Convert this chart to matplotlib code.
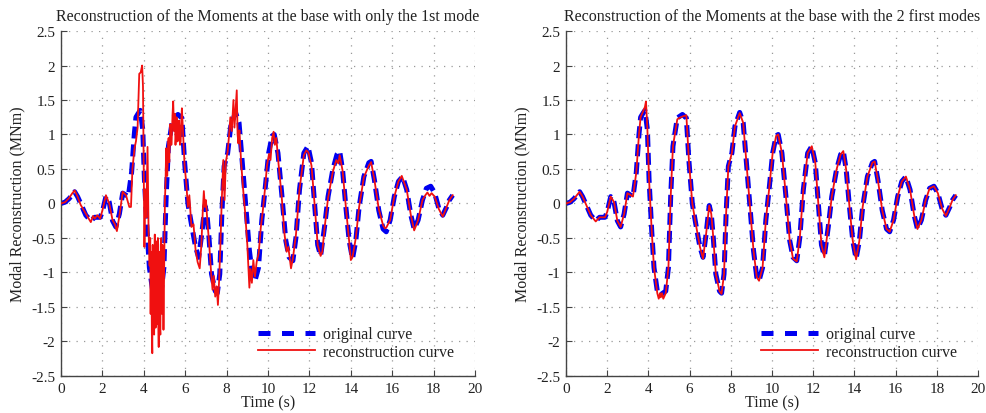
import matplotlib
matplotlib.use("Agg")
import matplotlib.pyplot as plt
from matplotlib.lines import Line2D

plt.rcParams['font.family'] = ['Liberation Serif', 'DejaVu Serif']
plt.rcParams['axes.unicode_minus'] = False

# original curve (same in both panels)
t_orig = [0, 0.2, 0.39, 0.55, 0.66, 0.8, 0.95, 1.2, 1.44, 1.63, 1.89, 2.0, 2.17, 2.33, 2.49, 2.65,
          2.82, 2.98, 3.14, 3.25, 3.41, 3.54, 3.62, 3.72, 3.83, 3.95, 4.03, 4.16, 4.27, 4.43, 4.6,
          4.84, 4.97, 5.08, 5.19, 5.4, 5.65, 5.84, 5.97, 6.13, 6.3, 6.5, 6.65, 6.8, 6.95, 7.05,
          7.15, 7.27, 7.45, 7.55, 7.67, 7.77, 7.88, 8.05, 8.2, 8.43, 8.6, 8.76, 8.93, 9.1, 9.26,
          9.37, 9.54, 9.7, 9.87, 10.03, 10.2, 10.3, 10.48, 10.66, 10.86, 11.02, 11.2, 11.35, 11.52,
          11.73, 11.93, 12.1, 12.26, 12.4, 12.54, 12.73, 12.9, 13.13, 13.33, 13.46, 13.6, 13.76,
          13.92, 14.08, 14.24, 14.4, 14.63, 14.87, 14.98, 15.14, 15.35, 15.56, 15.71, 15.9, 16.1,
          16.3, 16.5, 16.7, 16.9, 17.06, 17.25, 17.46, 17.65, 17.86, 18.05, 18.25, 18.44, 18.63,
          18.76, 18.92]
m_orig = [0, 0.02, 0.07, 0.13, 0.17, 0.1, 0, -0.17, -0.25, -0.2, -0.2, -0.12, 0.1, 0.02, -0.25,
          -0.34, -0.15, 0.15, 0.12, 0.1, 0.45, 1.0, 1.25, 1.3, 1.35, 1.07, 0.35, -0.4, -0.93, -1.27,
          -1.32, -1.27, -0.93, 0.1, 0.83, 1.24, 1.29, 1.24, 0.6, 0, -0.3, -0.63, -0.78, -0.44, -0.03,
          -0.15, -0.5, -1.02, -1.27, -1.3, -1.02, -0.15, 0.54, 0.73, 1.12, 1.32, 1.17, 0.58, -0.05,
          -0.68, -1.07, -1.12, -0.93, -0.24, 0.24, 0.73, 0.98, 1.0, 0.73, 0.15, -0.54, -0.78, -0.83,
          -0.49, 0.2, 0.73, 0.83, 0.59, -0.05, -0.6, -0.76, -0.34, 0.1, 0.49, 0.71, 0.76, 0.49, -0.05,
          -0.54, -0.8, -0.54, -0.05, 0.39, 0.59, 0.61, 0.34, -0.1, -0.37, -0.41, -0.24, 0.1, 0.32,
          0.39, 0.2, -0.17, -0.37, -0.24, 0.05, 0.22, 0.25, 0.15, -0.07, -0.17, -0.05, 0.05, 0.12]

# reconstruction with only the 1st mode
t_rec1 = [0, 0.2, 0.39, 0.55, 0.66, 0.8, 0.95, 1.2, 1.3, 1.44, 1.55, 1.63, 1.75, 1.89, 2.0, 2.17,
          2.33, 2.49, 2.6, 2.7, 2.82, 2.98, 3.14, 3.3, 3.38, 3.45, 3.55, 3.62, 3.7, 3.78, 3.85,
          3.92, 3.96, 4.0, 4.03, 4.07, 4.12, 4.18, 4.23, 4.28, 4.31, 4.33, 4.35, 4.37, 4.39, 4.41,
          4.43, 4.45, 4.47, 4.5, 4.53, 4.55, 4.57, 4.6, 4.62, 4.64, 4.66, 4.68, 4.7, 4.72, 4.74,
          4.76, 4.78, 4.8, 4.82, 4.84, 4.86, 4.88, 4.9, 4.92, 4.95, 4.98, 5.02, 5.05, 5.08, 5.1,
          5.13, 5.15, 5.18, 5.2, 5.23, 5.25, 5.28, 5.3, 5.33, 5.35, 5.39, 5.42, 5.46, 5.5, 5.53,
          5.55, 5.58, 5.6, 5.63, 5.66, 5.7, 5.72, 5.75, 5.78, 5.81, 5.84, 5.9, 5.97, 6.05, 6.13,
          6.2, 6.3, 6.4, 6.5, 6.6, 6.7, 6.78, 6.85, 6.9, 6.95, 7.0, 7.08, 7.15, 7.25, 7.32, 7.38,
          7.45, 7.52, 7.58, 7.64, 7.7, 7.76, 7.84, 7.9, 7.96, 8.05, 8.12, 8.18, 8.25, 8.33, 8.38,
          8.45, 8.49, 8.53, 8.57, 8.62, 8.7, 8.8, 8.9, 9.0, 9.05, 9.1, 9.15, 9.22, 9.29, 9.37, 9.45,
          9.55, 9.65, 9.75, 9.85, 9.95, 10.05, 10.12, 10.2, 10.27, 10.33, 10.4, 10.5, 10.66, 10.8,
          10.9, 10.98, 11.05, 11.11, 11.2, 11.35, 11.52, 11.73, 11.85, 11.95, 12.1, 12.26, 12.4,
          12.54, 12.62, 12.73, 12.9, 13.13, 13.3, 13.4, 13.46, 13.6, 13.76, 13.92, 14.0, 14.08,
          14.24, 14.4, 14.63, 14.87, 14.98, 15.14, 15.35, 15.56, 15.65, 15.71, 15.9, 16.1, 16.3,
          16.46, 16.7, 16.9, 17.06, 17.25, 17.46, 17.6, 17.7, 17.8, 17.9, 18.05, 18.25, 18.44,
          18.63, 18.76, 18.92]
m_rec1 = [0, 0.02, 0.08, 0.15, 0.19, 0.1, -0.02, -0.15, -0.2, -0.27, -0.18, -0.22, -0.17, -0.22,
          -0.1, 0.12, 0.0, -0.24, -0.3, -0.4, -0.18, 0.17, 0.12, -0.05, -0.05, 0.5, 0.8, 0.9, 1.1,
          1.88, 1.9, 2.0, 1.7, 0.3, -0.63, 0.2, -0.2, 0.82, -0.4, -0.9, -0.5, -1.6, -0.7, -1.0,
          -1.9, -2.17, -0.6, -1.2, -1.7, -1.9, -0.45, -1.5, -1.8, -1.0, -0.55, -1.75, -1.2, -0.5,
          -1.6, -2.08, -0.7, -1.1, -1.8, -1.9, -0.6, -0.5, -1.3, -1.6, -0.6, -0.8, -1.83, -1.0,
          0.05, 0.3, 0.8, 0.65, 0.4, 0.55, 0.9, 0.95, 0.6, 0.8, 1.15, 1.1, 0.85, 0.95, 1.3, 1.48,
          1.05, 1.3, 0.85, 0.95, 1.25, 1.2, 0.9, 1.0, 1.2, 1.1, 0.85, 0.9, 1.2, 1.38, 1.0, 0.55,
          0.3, -0.05, 0.12, -0.34, -0.3, -0.67, -0.85, -0.94, -0.6, -0.1, 0.18, -0.05, 0.05, -0.3,
          -0.55, -1.0, -1.25, -1.05, -1.35, -1.2, -1.47, -1.1, -0.6, 0.0, 0.63, 0.05, 0.6, 0.75,
          1.0, 1.25, 1.05, 1.5, 1.1, 1.45, 1.64, 1.0, 0.87, 1.06, 0.6, 0.2, -0.15, -0.6, -0.9,
          -1.22, -0.95, -1.15, -0.82, -1.06, -0.85, -0.72, -0.35, -0.1, 0.2, 0.55, 0.72, 0.63, 0.95,
          1.04, 0.85, 0.95, 0.6, 0.1, -0.45, -0.7, -0.63, -0.8, -0.94, -0.8, -0.45, 0.2, 0.7, 0.77,
          0.74, 0.55, -0.05, -0.6, -0.76, -0.7, -0.36, 0.08, 0.46, 0.63, 0.58, 0.7, 0.48, -0.05,
          -0.55, -0.82, -0.78, -0.5, -0.05, 0.38, 0.55, 0.6, 0.34, -0.08, -0.32, -0.36, -0.35,
          -0.24, 0.1, 0.32, 0.4, 0.2, -0.17, -0.39, -0.24, 0.05, 0.12, 0.16, 0.11, 0.15, 0.1, -0.08,
          -0.19, -0.05, 0.05, 0.12]

# reconstruction with the 2 first modes
t_rec2 = [0, 0.2, 0.39, 0.55, 0.66, 0.8, 0.95, 1.2, 1.44, 1.63, 1.89, 2.0, 2.17, 2.33, 2.49, 2.65,
          2.82, 2.98, 3.14, 3.25, 3.41, 3.54, 3.62, 3.72, 3.83, 3.88, 3.95, 4.03, 4.16, 4.27, 4.43,
          4.5, 4.56, 4.6, 4.66, 4.72, 4.84, 4.97, 5.08, 5.19, 5.4, 5.5, 5.65, 5.84, 5.97, 6.13, 6.3,
          6.5, 6.65, 6.8, 6.95, 7.05, 7.15, 7.27, 7.45, 7.55, 7.67, 7.77, 7.88, 8.05, 8.2, 8.43,
          8.6, 8.76, 8.93, 9.1, 9.26, 9.37, 9.54, 9.7, 9.87, 10.03, 10.2, 10.3, 10.48, 10.66, 10.86,
          11.02, 11.2, 11.35, 11.52, 11.73, 11.93, 12.1, 12.26, 12.4, 12.54, 12.73, 12.9, 13.13,
          13.33, 13.46, 13.6, 13.76, 13.92, 14.08, 14.24, 14.4, 14.63, 14.87, 14.98, 15.14, 15.35,
          15.56, 15.71, 15.9, 16.1, 16.3, 16.5, 16.7, 16.9, 17.06, 17.25, 17.46, 17.65, 17.86,
          18.05, 18.25, 18.44, 18.63, 18.76, 18.92]
m_rec2 = [0, 0.02, 0.07, 0.13, 0.17, 0.1, 0, -0.17, -0.26, -0.2, -0.2, -0.12, 0.1, 0.02, -0.25,
          -0.34, -0.15, 0.15, 0.12, 0.1, 0.45, 1.0, 1.25, 1.32, 1.4, 1.48, 1.07, 0.35, -0.4, -0.93,
          -1.3, -1.38, -1.3, -1.36, -1.3, -1.38, -1.3, -0.93, 0.1, 0.83, 1.22, 1.24, 1.26, 1.28,
          0.6, 0, -0.3, -0.63, -0.8, -0.44, -0.03, -0.15, -0.5, -1.02, -1.27, -1.31, -1.02, -0.15,
          0.54, 0.73, 1.12, 1.31, 1.17, 0.58, -0.05, -0.68, -1.07, -1.12, -0.93, -0.24, 0.24, 0.73,
          0.98, 1.0, 0.73, 0.15, -0.54, -0.8, -0.84, -0.49, 0.2, 0.73, 0.83, 0.59, -0.05, -0.6,
          -0.78, -0.34, 0.1, 0.49, 0.71, 0.76, 0.49, -0.05, -0.54, -0.81, -0.54, -0.05, 0.39, 0.59,
          0.61, 0.34, -0.1, -0.37, -0.41, -0.24, 0.1, 0.32, 0.39, 0.2, -0.17, -0.37, -0.24, 0.05,
          0.22, 0.25, 0.15, -0.07, -0.18, -0.05, 0.05, 0.12]

titles = ["Reconstruction of the Moments at the base with only the 1st mode",
          "Reconstruction of the Moments at the base with the 2 first modes"]
xticks = list(range(0, 21, 2))
yticks = [-2.5, -2, -1.5, -1, -0.5, 0, 0.5, 1, 1.5, 2, 2.5]
ytick_labels = ['-2.5', '-2', '-1.5', '-1', '-0.5', '0', '0.5', '1', '1.5', '2', '2.5']

blue = '#0000f0'
red = '#f01010'

fig = plt.figure(figsize=(9.87, 4.14), dpi=100)
ax1 = fig.add_axes([0.0618, 0.0894, 0.4195, 0.8333])
ax2 = fig.add_axes([0.5735, 0.0894, 0.4174, 0.8333])

for ax, title, (tr, mr) in zip([ax1, ax2], titles, [(t_rec1, m_rec1), (t_rec2, m_rec2)]):
    ax.plot(t_orig, m_orig, color=blue, lw=3.6, dashes=(2.4, 1.2), zorder=2)
    ax.plot(tr, mr, color=red, lw=1.3, zorder=3)
    ax.set_xlim(0, 20)
    ax.set_ylim(-2.5, 2.5)
    ax.set_xticks(xticks)
    ax.set_yticks(yticks)
    ax.set_yticklabels(ytick_labels)
    ax.grid(True, color='#999999', linestyle=(0, (1, 5)), linewidth=0.9)
    ax.spines['top'].set_visible(False)
    ax.spines['right'].set_visible(False)
    for s in ['left', 'bottom']:
        ax.spines[s].set_color('#444444')
        ax.spines[s].set_linewidth(1.0)
    ax.tick_params(direction='in', length=4, colors='#444444', labelcolor='#222222',
                   labelsize=11, pad=4)
    ax.set_title(title, fontsize=11.5, color='#222222', pad=8)
    ax.set_xlabel('Time (s)', fontsize=11.5, color='#222222', labelpad=0)
    ax.set_ylabel('Modal Reconstruction (MNm)', fontsize=11.5, color='#222222', labelpad=4)
    # legend handles with the wider dash spacing seen in the legend
    h_orig = Line2D([], [], color=blue, lw=3.6, dashes=(2.4, 2.3))
    h_rec = Line2D([], [], color=red, lw=1.3)
    ax.legend([h_orig, h_rec], ['original curve', 'reconstruction curve'],
              loc='lower right', bbox_to_anchor=(0.985, 0.005), frameon=False, fontsize=11.5,
              handlelength=3.6, handletextpad=0.5, labelspacing=0.1, labelcolor='#222222')

fig.savefig('out.png', dpi=100)
